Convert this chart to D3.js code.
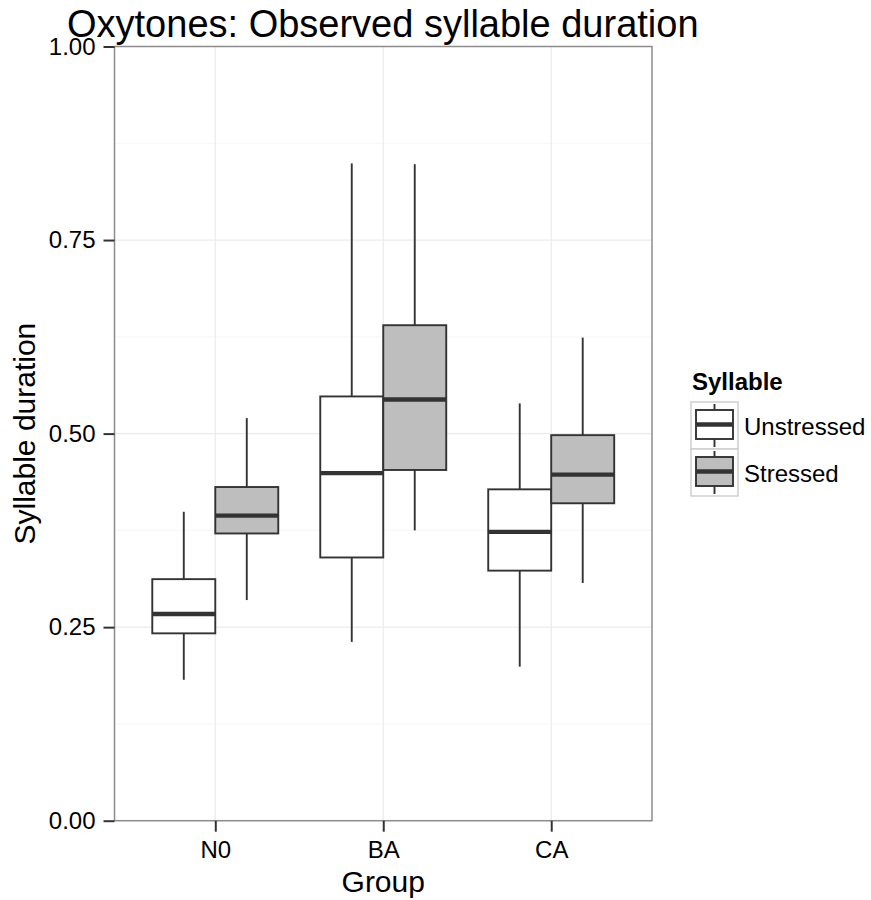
<!DOCTYPE html>
<html>
<head>
<meta charset="utf-8">
<script src="https://cdn.jsdelivr.net/npm/d3@7"></script>
<style>
  body { margin: 0; background: #fff; }
  text { font-family: "Liberation Sans", Arial, sans-serif; }
</style>
</head>
<body>
<div id="chart"></div>
<script>
// Data
const groups = ["N0", "BA", "CA"];
const syllables = ["Unstressed", "Stressed"];
const yTicks = [0, 0.25, 0.5, 0.75, 1];
const yMinor = [0.125, 0.375, 0.625, 0.875];

// per syllable, one value per group
const lowerWhisker = {Unstressed: [0.182, 0.231, 0.199], Stressed: [0.285, 0.375, 0.307]};
const q1 =           {Unstressed: [0.242, 0.340, 0.323], Stressed: [0.371, 0.453, 0.410]};
const medians =      {Unstressed: [0.267, 0.449, 0.373], Stressed: [0.394, 0.544, 0.447]};
const q3 =           {Unstressed: [0.312, 0.548, 0.428], Stressed: [0.431, 0.640, 0.498]};
const upperWhisker = {Unstressed: [0.399, 0.849, 0.539], Stressed: [0.520, 0.848, 0.624]};

const fills = {Unstressed: "#ffffff", Stressed: "#bebebe"};

const W = 871, H = 900;
const panel = {left: 114.5, right: 652, top: 46.5, bottom: 820.7};
const lineW = 1.9, medW = 4.4;

const svg = d3.select("#chart").append("svg")
    .attr("width", W)
    .attr("height", H);

// scales
const x = d3.scalePoint()
    .domain(groups)
    .range([panel.left, panel.right])
    .padding(0.6);
const step = x.step();
const dodge = d3.scaleBand()
    .domain(syllables)
    .range([-0.375 * step, 0.375 * step]);
const y = d3.scaleLinear()
    .domain([0, 1])
    .range([panel.bottom, panel.top]);

// grid
const grid = svg.append("g");
grid.selectAll("line.minor")
    .data(yMinor)
    .enter().append("line")
    .attr("x1", panel.left).attr("x2", panel.right)
    .attr("y1", d => y(d)).attr("y2", d => y(d))
    .attr("stroke", "#f7f7f7").attr("stroke-width", 1.2);
grid.selectAll("line.majory")
    .data(yTicks)
    .enter().append("line")
    .attr("x1", panel.left).attr("x2", panel.right)
    .attr("y1", d => y(d)).attr("y2", d => y(d))
    .attr("stroke", "#ebebeb").attr("stroke-width", 1.2);
grid.selectAll("line.majorx")
    .data(groups)
    .enter().append("line")
    .attr("x1", d => x(d)).attr("x2", d => x(d))
    .attr("y1", panel.top).attr("y2", panel.bottom)
    .attr("stroke", "#ebebeb").attr("stroke-width", 1.2);

// boxes
const boxes = [];
syllables.forEach(s => {
    groups.forEach((g, i) => {
        boxes.push({
            group: g, syl: s,
            lo: lowerWhisker[s][i], q1: q1[s][i], med: medians[s][i],
            q3: q3[s][i], hi: upperWhisker[s][i]
        });
    });
});

const bw = dodge.bandwidth();
const boxG = svg.append("g").selectAll("g")
    .data(boxes)
    .enter().append("g")
    .attr("transform", d => `translate(${x(d.group) + dodge(d.syl)},0)`);

boxG.append("line")
    .attr("x1", bw / 2).attr("x2", bw / 2)
    .attr("y1", d => y(d.hi)).attr("y2", d => y(d.q3))
    .attr("stroke", "#333").attr("stroke-width", lineW);
boxG.append("line")
    .attr("x1", bw / 2).attr("x2", bw / 2)
    .attr("y1", d => y(d.q1)).attr("y2", d => y(d.lo))
    .attr("stroke", "#333").attr("stroke-width", lineW);
boxG.append("rect")
    .attr("x", 0).attr("width", bw)
    .attr("y", d => y(d.q3))
    .attr("height", d => y(d.q1) - y(d.q3))
    .attr("fill", d => fills[d.syl])
    .attr("stroke", "#333").attr("stroke-width", lineW);
boxG.append("line")
    .attr("x1", 0).attr("x2", bw)
    .attr("y1", d => y(d.med)).attr("y2", d => y(d.med))
    .attr("stroke", "#333").attr("stroke-width", medW);

// panel border
svg.append("rect")
    .attr("x", panel.left).attr("y", panel.top)
    .attr("width", panel.right - panel.left)
    .attr("height", panel.bottom - panel.top)
    .attr("fill", "none")
    .attr("stroke", "#8c8c8c").attr("stroke-width", 1.5);

// axes
const yAxis = svg.append("g")
    .attr("transform", `translate(${panel.left},0)`)
    .call(d3.axisLeft(y).tickValues(yTicks).tickFormat(d3.format(".2f")).tickSize(11).tickPadding(8));
const xAxis = svg.append("g")
    .attr("transform", `translate(0,${panel.bottom})`)
    .call(d3.axisBottom(x).tickSize(11).tickPadding(9));
[yAxis, xAxis].forEach(a => {
    a.select(".domain").remove();
    a.selectAll(".tick line").attr("stroke", "#333").attr("stroke-width", 2);
    a.selectAll(".tick text")
        .attr("fill", "#000")
        .style("font-size", "24px")
        .style("font-family", "'Liberation Sans', Arial, sans-serif");
});
xAxis.selectAll(".tick text").attr("dy", "0.72em");

// titles
svg.append("text")
    .attr("x", 67).attr("y", 37)
    .style("font-size", "38px")
    .text("Oxytones: Observed syllable duration");
svg.append("text")
    .attr("x", (panel.left + panel.right) / 2).attr("y", 892)
    .attr("text-anchor", "middle")
    .style("font-size", "30px")
    .text("Group");
svg.append("text")
    .attr("transform", `translate(35,${(panel.top + panel.bottom) / 2}) rotate(-90)`)
    .attr("text-anchor", "middle")
    .style("font-size", "30px")
    .text("Syllable duration");

// legend
const legend = svg.append("g").attr("transform", "translate(691,402)");
legend.append("text")
    .attr("x", 1).attr("y", -12)
    .style("font-size", "24px")
    .style("font-weight", "bold")
    .text("Syllable");
const keySize = 47;
const key = legend.selectAll("g.key")
    .data(syllables)
    .enter().append("g")
    .attr("transform", (d, i) => `translate(0,${i * keySize})`);
key.append("rect")
    .attr("width", keySize).attr("height", keySize)
    .attr("fill", "#fff")
    .attr("stroke", "#cccccc").attr("stroke-width", 1.4);
key.append("line")
    .attr("x1", keySize / 2).attr("x2", keySize / 2)
    .attr("y1", 2).attr("y2", keySize - 2)
    .attr("stroke", "#333").attr("stroke-width", lineW);
key.append("rect")
    .attr("x", 5).attr("y", 8)
    .attr("width", keySize - 10).attr("height", keySize - 18)
    .attr("fill", d => fills[d])
    .attr("stroke", "#333").attr("stroke-width", lineW);
key.append("line")
    .attr("x1", 5).attr("x2", keySize - 5)
    .attr("y1", 8 + (keySize - 18) / 2).attr("y2", 8 + (keySize - 18) / 2)
    .attr("stroke", "#333").attr("stroke-width", medW);
key.append("text")
    .attr("x", keySize + 6).attr("y", keySize / 2 + 9)
    .style("font-size", "24px")
    .text(d => d);
</script>
</body>
</html>
